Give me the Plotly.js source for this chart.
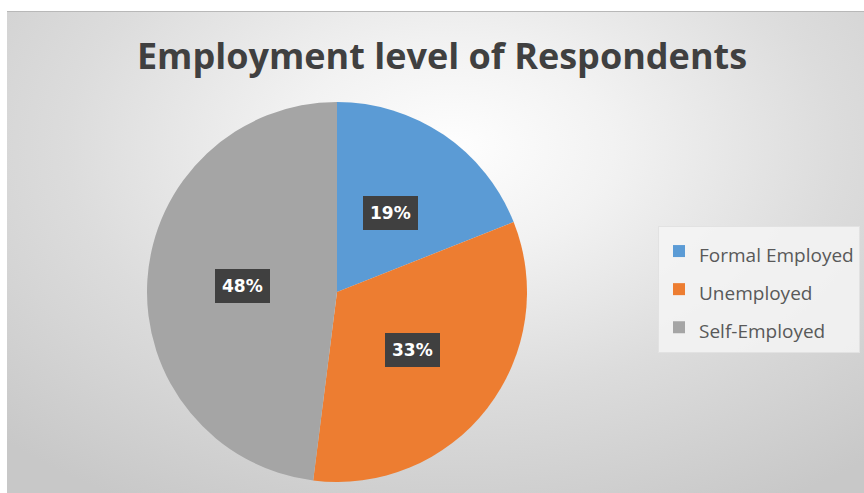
<!DOCTYPE html>
<html>
<head>
<meta charset="utf-8">
<script src="https://cdn.plot.ly/plotly-3.0.1.min.js"></script>
<style>
  html, body { margin:0; padding:0; background:#ffffff; }
  #wrap { position:relative; width:864px; height:493px; overflow:hidden; }
  #bg { position:absolute; left:7px; top:11px; width:857px; height:482px;
        border-top:1px solid #b8b8b8;
        background: radial-gradient(ellipse 75% 85% at 52% 28%, #fefefe 0%, #f2f2f2 25%, #dcdcdc 60%, #c8c8c8 100%); }
  #chart { position:absolute; left:0; top:0; width:864px; height:493px; }
</style>
</head>
<body>
<div id="wrap">
  <div id="bg"></div>
  <div id="chart"></div>
</div>
<script>
const categories = ["Formal Employed", "Unemployed", "Self-Employed"];
const values = [19, 33, 48];
const labelsText = ["19%", "33%", "48%"];
const colors = ["#5B9BD5", "#ED7D31", "#A5A5A5"];

const W = 864, H = 493;
const cx = 337, cy = 292, R = 190;
const domX = [(cx - R) / W, (cx + R) / W];
const domY = [(H - cy - R) / H, (H - cy + R) / H];

const total = values.reduce((a, b) => a + b, 0);
const annotations = [];
let cum = 0;
values.forEach((v, i) => {
  const mid = (cum + v / 2) / total;
  cum += v;
  const th = 2 * Math.PI * mid;
  const px = cx + 0.5 * R * Math.sin(th);
  const py = (H - cy) + 0.5 * R * Math.cos(th);
  annotations.push({
    x: px / W, y: py / H, xref: 'paper', yref: 'paper',
    text: labelsText[i], showarrow: false,
    font: { family: 'DejaVu Sans', size: 17, color: '#ffffff', weight: 'bold' },
    bgcolor: '#404040', borderpad: 7, borderwidth: 0,
    xanchor: 'center', yanchor: 'middle'
  });
});

const legendLabels = categories.map(c => '<span style="font-size:19px">' + c + '</span>');

const data = [{
  type: 'pie',
  labels: legendLabels,
  values: values,
  sort: false,
  direction: 'clockwise',
  rotation: 0,
  marker: { colors: colors, line: { width: 0 } },
  textinfo: 'none',
  hoverinfo: 'label+percent',
  domain: { x: domX, y: domY }
}];

const layout = {
  width: W, height: H,
  margin: { l: 0, r: 0, t: 0, b: 0 },
  paper_bgcolor: 'rgba(0,0,0,0)',
  plot_bgcolor: 'rgba(0,0,0,0)',
  title: {
    text: 'Employment level of Respondents',
    font: { family: 'Open Sans', size: 36, color: '#404040', weight: 'bold' },
    x: 442 / W, xanchor: 'center',
    y: 1 - 56 / H, yanchor: 'middle', xref: 'paper', yref: 'paper'
  },
  showlegend: true,
  legend: {
    x: 658 / W, y: 1 - 226 / H, xanchor: 'left', yanchor: 'top',
    bgcolor: 'rgba(244,244,244,0.85)', bordercolor: '#e2e2e2', borderwidth: 1,
    font: { family: 'Open Sans', size: 27, color: '#595959' },
    traceorder: 'normal'
  },
  annotations: annotations
};

Plotly.newPlot('chart', data, layout, { displayModeBar: false, staticPlot: true });
</script>
</body>
</html>
